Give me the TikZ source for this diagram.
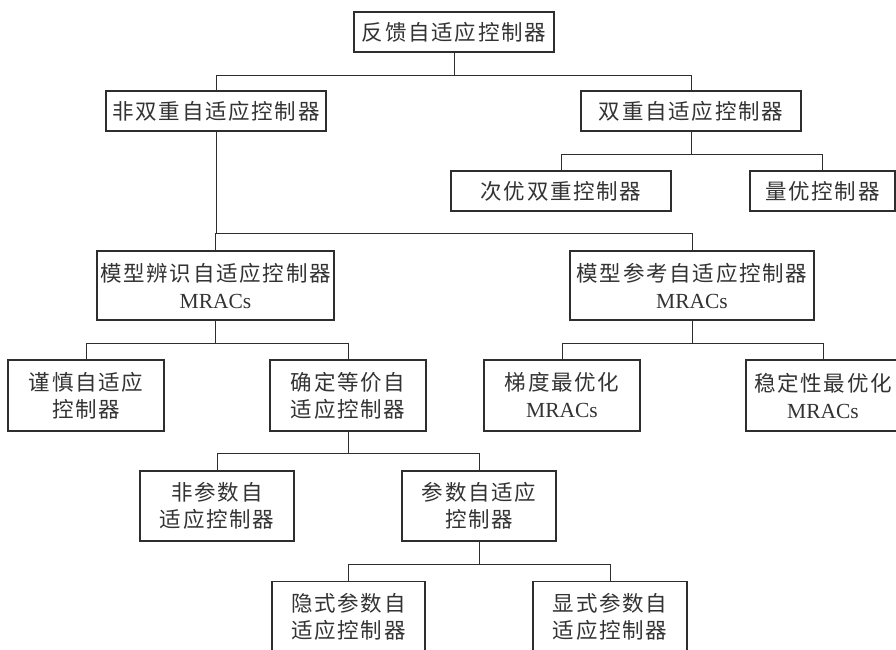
\documentclass[tikz,border=0pt]{standalone}
\usepackage{fontspec}
\setmainfont{Liberation Serif}
\newfontfamily\cjk[LetterSpace=8]{Noto Sans CJK SC}
\definecolor{linec}{HTML}{2E2E2E}
\definecolor{textc}{HTML}{333333}
\begin{document}
\begin{tikzpicture}[x=1pt,y=-1pt,
  box/.style={draw=linec, line width=1.4pt, inner sep=0pt, align=center,
    font=\fontsize{21.5}{27}\selectfont, text=textc},
  conn/.style={draw=linec, line width=0.7pt}]
\useasboundingbox[fill=white] (0,0) rectangle (896,649);
\clip (0,0) rectangle (896,649);
% level 0
\node[box, minimum width=200pt, minimum height=40pt] (top) at (454,32) {\cjk 反馈自适应控制器};
% level 1
\node[box, minimum width=220pt, minimum height=40pt] (nd) at (216,111) {\cjk 非双重自适应控制器};
\node[box, minimum width=220pt, minimum height=40pt] (du) at (691,111) {\cjk 双重自适应控制器};
% level 2 (dual)
\node[box, minimum width=220pt, minimum height=40pt] (so) at (561,191) {\cjk 次优双重控制器};
\node[box, minimum width=145pt, minimum height=40pt] (qo) at (822.5,191) {\cjk 量优控制器};
% level 2 (non-dual)
\node[box, minimum width=237pt, minimum height=69pt] (mi) at (215.5,285.5) {{\cjk 模型辨识自适应控制器}\\MRACs};
\node[box, minimum width=244pt, minimum height=69pt] (mr) at (692,285.5) {{\cjk 模型参考自适应控制器}\\MRACs};
% level 3
\node[box, minimum width=156pt, minimum height=71pt] (cau) at (86,395.5) {{\cjk 谨慎自适应}\\{\cjk 控制器}};
\node[box, minimum width=156pt, minimum height=71pt] (ce) at (348,395.5) {{\cjk 确定等价自}\\{\cjk 适应控制器}};
\node[box, minimum width=156pt, minimum height=71pt] (gr) at (562,395.5) {{\cjk 梯度最优化}\\MRACs};
\node[box, minimum width=154pt, minimum height=71pt] (st) at (823,395.5) {{\cjk 稳定性最优化}\\MRACs};
% level 4
\node[box, minimum width=154pt, minimum height=70pt] (np) at (217,506) {{\cjk 非参数自}\\{\cjk 适应控制器}};
\node[box, minimum width=154pt, minimum height=70pt] (pa) at (479,506) {{\cjk 参数自适应}\\{\cjk 控制器}};
% level 5
\node[box, minimum width=153pt, minimum height=70pt] (im) at (348.5,616.5) {{\cjk 隐式参数自}\\{\cjk 适应控制器}};
\node[box, minimum width=154pt, minimum height=70pt] (ex) at (610,616.5) {{\cjk 显式参数自}\\{\cjk 适应控制器}};
% connectors
\draw[conn] (top.south) -- (top.south |- 0,75) -| (nd.north);
\draw[conn] (top.south) -- (top.south |- 0,75) -| (du.north);
\draw[conn] (du.south) -- (du.south |- 0,154) -| (so.north);
\draw[conn] (du.south) -- (du.south |- 0,154) -| (qo.north);
\draw[conn] (nd.south) -- (nd.south |- 0,233) -| (mi.north);
\draw[conn] (nd.south) -- (nd.south |- 0,233) -| (mr.north);
\draw[conn] (mi.south) -- (mi.south |- 0,343) -| (cau.north);
\draw[conn] (mi.south) -- (mi.south |- 0,343) -| (ce.north);
\draw[conn] (mr.south) -- (mr.south |- 0,343) -| (gr.north);
\draw[conn] (mr.south) -- (mr.south |- 0,343) -| (st.north);
\draw[conn] (ce.south) -- (ce.south |- 0,453) -| (np.north);
\draw[conn] (ce.south) -- (ce.south |- 0,453) -| (pa.north);
\draw[conn] (pa.south) -- (pa.south |- 0,564) -| (im.north);
\draw[conn] (pa.south) -- (pa.south |- 0,564) -| (ex.north);
\end{tikzpicture}
\end{document}
